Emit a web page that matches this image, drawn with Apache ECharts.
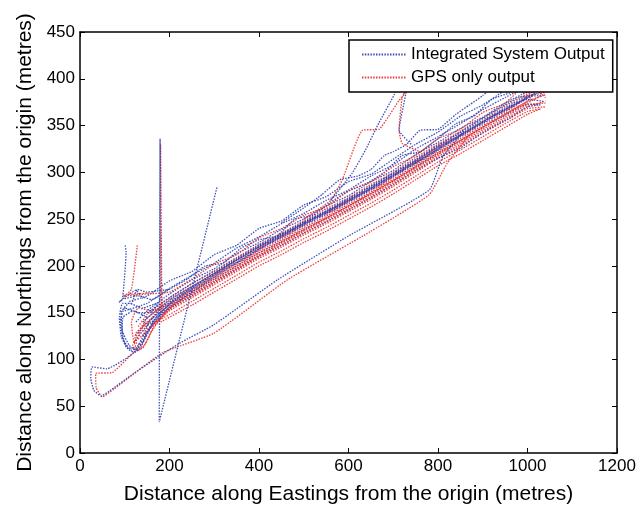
<!DOCTYPE html>
<html><head><meta charset="utf-8">
<script src="https://cdn.jsdelivr.net/npm/echarts@6/dist/echarts.min.js"></script>
<style>html,body{margin:0;padding:0;background:#fff}#c{width:644px;height:507px}</style>
</head><body><div id="c"></div>
<script>
const xTicks = [0,200,400,600,800,1000,1200];
const yTicks = [0,50,100,150,200,250,300,350,400,450];
const blueName = 'Integrated System Output';
const redName = 'GPS only output';

// Integrated system output runs (Easting, Northing) in metres
const blue1 = [[110,162],[150,168],[200,184],[250,194],[300,212],[350,222],[400,240],[450,248],[500,265],[550,274],[600,290],[650,298],[700,314],[750,330],[800,343],[850,360],[900,372],[950,388],[985,402]];
const blue2 = [[100,152],[150,160],[200,176],[250,190],[300,203],[350,219],[400,231],[450,245],[500,256],[550,270],[600,281],[650,296],[700,308],[750,325],[800,338],[850,352],[900,367],[950,380],[1000,392]];
const blue3 = [[125,140],[150,152],[200,170],[250,185],[300,197],[350,213],[400,225],[450,239],[500,250],[550,264],[600,275],[650,290],[700,302],[750,319],[800,332],[850,347],[900,359],[950,374],[1000,386],[1030,388]];
const blue4 = [[150,150],[200,166],[250,181],[300,194],[350,208],[400,222],[450,234],[500,247],[550,259],[600,272],[650,285],[700,299],[750,314],[800,329],[850,342],[900,356],[950,369],[1000,382],[1030,384]];
const blue5 = [[170,160],[140,155],[110,160],[92,150],[95,130],[110,115],[125,110],[140,118],[160,135],[200,160],[250,175],[300,190],[350,204],[400,218],[450,230],[500,243],[550,255],[600,268],[650,281],[700,295],[750,310],[800,325],[850,338],[900,352],[950,365],[1000,378],[1035,376]];
const blue6 = [[130,128],[150,140],[200,158],[250,172],[300,186],[350,200],[400,214],[450,226],[500,239],[550,251],[600,264],[650,277],[700,291],[750,306],[800,321],[850,334],[900,348],[950,361],[1000,373],[1030,372]];
const blue7 = [[120,118],[150,136],[200,154],[250,168],[300,182],[350,196],[400,210],[450,222],[500,235],[550,247],[600,260],[650,273],[700,287],[750,302],[800,315],[850,326],[880,336],[920,348],[960,358],[1000,370],[1025,372]];
const blue8 = [[100,165],[130,168],[160,164],[200,175],[240,186],[280,200],[320,203],[360,219],[400,228],[440,232],[480,250],[520,254],[560,268],[600,280],[640,288],[680,300],[720,318],[760,322],[800,336],[840,352],[880,360],[920,378],[960,385],[1000,394]];
const blue9 = [[140,140],[200,164],[250,178],[300,192],[350,206],[400,220],[450,232],[500,245],[550,257],[600,270],[650,283],[700,297],[750,312],[800,327],[850,340],[900,354],[950,367],[1000,380],[1020,386]];
const blue10 = [[450,246],[500,262],[540,276],[580,292],[620,296],[650,303],[680,318],[700,322],[730,330],[760,345],[800,346],[840,362],[870,372],[900,382],[930,395]];
const blue11 = [[160,150],[130,150],[100,155],[90,140],[100,118],[115,110],[130,113],[145,125],[170,145],[220,162],[300,188],[380,212],[460,234],[540,254],[620,274],[700,296],[780,318],[860,342],[940,364],[1010,382]];
const blue12 = [[200,175],[150,172],[128,175],[115,160],[95,160],[88,145],[92,125],[105,112],[120,108],[135,112],[150,128],[175,148],[230,170],[310,194],[390,218],[470,238],[550,258],[630,278],[710,300],[790,322],[870,346],[950,368],[1000,380]];
const blue13 = [[150,145],[120,152],[96,145],[94,125],[108,112],[124,112],[138,122],[155,140],[190,158],[260,180],[340,204],[420,226],[500,246],[580,266],[660,288],[740,310],[820,334],[900,358],[980,380],[1030,382]];
const blueLow = [[130,110],[60,90],[27,92],[24,80],[31,67],[47,61],[65,66],[120,85],[221,117],[299,137],[441,185],[600,232],[780,281],[811,317],[860,345]];
const blueSpike = [[160,150],[179,165],[179,336],[178,200],[177,33],[306,284]];
const blueExc1 = [[560,270],[608,299],[638,324],[668,353],[702,383],[720,410]];
const blueExc2 = [[740,330],[713,345],[728,384],[735,410]];
const blueLeft = [[101,222],[103,215],[95,165],[87,161],[110,170],[125,174],[140,165]];

// GPS only output runs
const red1 = [[130,135],[150,148],[200,166],[250,181],[300,195],[350,209],[400,223],[450,235],[500,248],[550,261],[600,273],[650,287],[700,300],[750,316],[800,330],[850,344],[900,358],[950,371],[1000,384],[1035,390]];
const red2 = [[125,125],[150,144],[200,163],[250,178],[300,192],[350,206],[400,219],[450,232],[500,245],[550,257],[600,270],[650,283],[700,297],[750,312],[800,327],[850,340],[900,354],[950,367],[1000,380],[1040,388]];
const red3 = [[150,130],[135,115],[120,120],[115,140],[130,155],[160,152],[200,160],[250,174],[300,188],[350,202],[400,216],[450,228],[500,241],[550,253],[600,266],[650,279],[700,293],[750,308],[800,323],[850,336],[900,350],[950,363],[1000,376],[1030,392],[1040,380]];
const red4 = [[140,125],[200,156],[250,170],[300,184],[350,198],[400,212],[450,224],[500,237],[550,249],[600,262],[650,275],[700,289],[750,304],[800,319],[850,332],[900,346],[950,359],[1000,372],[1040,374]];
const red5 = [[150,132],[200,152],[250,166],[300,180],[350,194],[400,208],[450,220],[500,233],[550,245],[600,258],[650,271],[700,285],[750,300],[800,315],[850,328],[900,342],[950,355],[1000,368],[1040,370]];
const red6 = [[160,138],[200,148],[250,162],[300,176],[350,190],[400,204],[450,216],[500,229],[550,241],[600,254],[650,267],[700,281],[750,296],[800,311],[850,324],[900,338],[950,352],[1000,365],[1030,368]];
const red7 = [[180,140],[250,158],[300,172],[350,186],[400,200],[450,212],[500,225],[550,237],[600,250],[650,263],[700,277],[750,292],[800,307],[850,320],[900,334],[950,348],[1000,362],[1030,368]];
const red8 = [[100,168],[150,170],[200,172],[250,186],[300,202],[350,212],[400,230],[450,240],[500,254],[550,263],[600,280],[650,290],[700,306],[750,318],[800,336],[850,346],[900,364],[950,374],[990,392]];
const red9 = [[145,140],[130,125],[118,115],[125,110],[140,112],[160,130],[200,156],[250,172],[300,186],[350,200],[400,214],[450,226],[500,239],[550,251],[600,264],[650,277],[700,291],[750,306],[800,321],[850,334],[900,348],[950,362],[1000,376],[1035,382]];
const red10 = [[140,130],[170,150],[220,165],[270,180],[320,196],[370,208],[420,224],[470,235],[520,250],[570,260],[620,275],[670,286],[720,302],[770,316],[820,332],[870,344],[920,360],[970,370],[1020,388],[1040,380]];
const red11 = [[120,118],[150,130],[200,154],[250,168],[300,182],[350,196],[400,210],[450,222],[500,235],[550,247],[600,260],[650,273],[700,287],[750,302],[800,317],[850,330],[900,344],[950,357],[1000,370],[1040,376]];
const red12 = [[165,145],[140,135],[125,128],[122,116],[132,110],[148,118],[165,135],[210,158],[280,178],[360,200],[440,222],[520,243],[600,264],[680,286],[760,308],[840,331],[920,354],[1000,374],[1038,384]];
const redLow = [[120,108],[72,86],[35,85],[36,70],[50,60],[75,68],[184,107],[299,128],[463,185],[650,237],[780,276],[821,310],[870,340]];
const redSpike = [[170,150],[182,160],[180,330],[183,150]];
const redExc1 = [[500,250],[560,270],[586,292],[631,345],[668,346],[694,363],[713,377],[724,383],[740,410]];
const redExc2 = [[735,395],[720,380],[713,345],[720,331],[760,322]];
const redLeft = [[128,222],[115,175],[98,167],[98,169],[154,171]];

const blueRuns = [blue1,blue2,blue3,blue4,blue5,blue6,blue7,blue8,blue9,blue10,blue11,blue12,blue13,blueLow,blueSpike,blueExc1,blueExc2,blueLeft];
const redRuns = [red1,red2,red3,red4,red5,red6,red7,red8,red9,red10,red11,red12,redLow,redSpike,redExc1,redExc2,redLeft];

const BLUE = '#2a3fb0', RED = '#ec2a2a';
function mk(name, data, color){
  return {name, type:'line', data, symbol:'none', smooth:0.15, animation:false,
    lineStyle:{color, width:1.3, type:[1.5,1.3], opacity:0.9}, itemStyle:{color}};
}
const series = [];
const n = Math.max(blueRuns.length, redRuns.length);
for (let i=0;i<n;i++){
  if (blueRuns[i]) series.push(mk(blueName, blueRuns[i], BLUE));
  if (redRuns[i]) series.push(mk(redName, redRuns[i], RED));
}

const font = 'Liberation Sans, Arial, Helvetica, sans-serif';
const chart = echarts.init(document.getElementById('c'), null, {renderer:'canvas'});
const axisCommon = {
  axisLine:{show:true, onZero:false, lineStyle:{color:'#000', width:1.5}},
  axisTick:{show:true, inside:true, length:5, lineStyle:{color:'#000', width:1}},
  splitLine:{show:false}
};
const fmt = v => String(v);
chart.setOption({
  backgroundColor:'#fff',
  animation:false,
  grid:{left:80, right:27, top:32, bottom:54, show:false, containLabel:false, outerBoundsMode:'none'},
  legend:{data:[blueName, redName], orient:'vertical', left:349, top:40, width:263,
    backgroundColor:'#fff', borderColor:'#000', borderWidth:1.5, padding:[6,8,6,12],
    itemWidth:44, itemHeight:10, itemGap:6,
    itemStyle:{opacity:0},
    textStyle:{fontFamily:font, fontSize:17, color:'#000'}},
  xAxis:[
    Object.assign({type:'value', min:0, max:1200, interval:200, position:'bottom',
      name:'Distance along Eastings from the origin (metres)', nameLocation:'middle', nameGap:31,
      nameTextStyle:{fontFamily:font, fontSize:21, color:'#000'},
      axisLabel:{fontFamily:font, fontSize:17, color:'#000', margin:5, formatter:fmt}}, axisCommon),
    Object.assign({type:'value', min:0, max:1200, interval:200, position:'top', axisLabel:{show:false}}, axisCommon)
  ],
  yAxis:[
    Object.assign({type:'value', min:0, max:450, interval:50, position:'left',
      name:'Distance along Northings from the origin (metres)', nameLocation:'middle', nameGap:36,
      nameTextStyle:{fontFamily:font, fontSize:21, color:'#000'},
      axisLabel:{fontFamily:font, fontSize:17, color:'#000', margin:5, formatter:fmt}}, axisCommon),
    Object.assign({type:'value', min:0, max:450, interval:50, position:'right', axisLabel:{show:false}}, axisCommon)
  ],
  series
});
</script></body></html>
